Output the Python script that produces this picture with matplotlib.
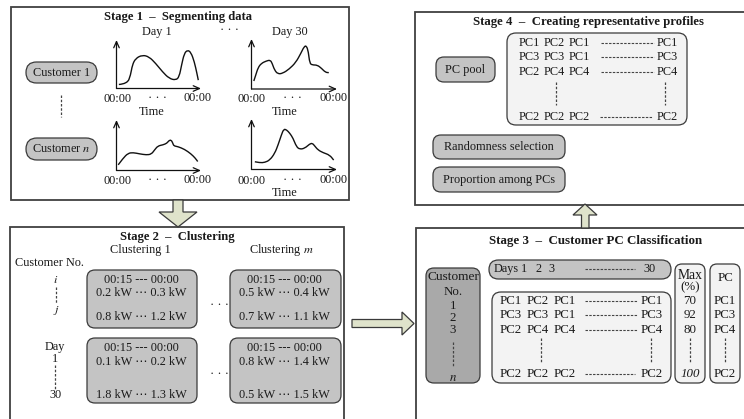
import matplotlib
matplotlib.use('Agg')
import matplotlib.pyplot as plt
from matplotlib.patches import FancyBboxPatch, Polygon, PathPatch
from matplotlib.path import Path

plt.rcParams['mathtext.fontset'] = 'stix'

SERIF = ['Liberation Serif', 'DejaVu Serif', 'DejaVu Sans']
FS = 8.8
FS3 = 9.3
EDGE = '#3a3a3a'

# load sketches (fractions of each small plot's width / height)
day1_cust1 = [(0.028, 0.083), (0.127, 0.097), (0.167, 0.276), (0.187, 0.483), (0.226, 0.621),
              (0.306, 0.690), (0.385, 0.655), (0.464, 0.517), (0.544, 0.345), (0.623, 0.207),
              (0.702, 0.172), (0.742, 0.241), (0.770, 0.483), (0.802, 0.724), (0.841, 0.793),
              (0.881, 0.745), (0.921, 0.552), (0.952, 0.310), (0.968, 0.172)]
day30_cust1 = [(0.027, 0.160), (0.050, 0.280), (0.077, 0.427), (0.115, 0.513), (0.173, 0.560),
               (0.219, 0.580), (0.242, 0.513), (0.269, 0.380), (0.308, 0.300), (0.365, 0.313),
               (0.442, 0.400), (0.519, 0.533), (0.577, 0.713), (0.615, 0.847), (0.642, 0.867),
               (0.665, 0.747), (0.681, 0.513), (0.712, 0.480), (0.769, 0.480), (0.819, 0.413),
               (0.865, 0.333), (0.904, 0.327)]
day1_custn = [(0.020, 0.112), (0.078, 0.243), (0.137, 0.342), (0.196, 0.355), (0.275, 0.329),
              (0.353, 0.309), (0.412, 0.322), (0.451, 0.408), (0.490, 0.487), (0.549, 0.507),
              (0.596, 0.539), (0.620, 0.592), (0.647, 0.605), (0.667, 0.539), (0.678, 0.487),
              (0.725, 0.474), (0.804, 0.421), (0.882, 0.329), (0.933, 0.243), (0.961, 0.178)]
day30_custn = [(0.039, 0.153), (0.097, 0.133), (0.156, 0.140), (0.214, 0.187), (0.272, 0.320),
               (0.311, 0.487), (0.350, 0.687), (0.377, 0.800), (0.409, 0.787), (0.447, 0.720),
               (0.486, 0.620), (0.525, 0.453), (0.564, 0.400), (0.623, 0.420), (0.681, 0.507),
               (0.712, 0.520), (0.739, 0.467), (0.778, 0.387), (0.837, 0.333), (0.914, 0.287),
               (0.961, 0.187)]

# stage 2 cluster boxes
cluster_rows = {
    'c1_cust': ['00:15 --- 00:00', '0.2 kW \u22ef 0.3 kW', '0.8 kW \u22ef 1.2 kW'],
    'cm_cust': ['00:15 --- 00:00', '0.5 kW \u22ef 0.4 kW', '0.7 kW \u22ef 1.1 kW'],
    'c1_day': ['00:15 --- 00:00', '0.1 kW \u22ef 0.2 kW', '1.8 kW \u22ef 1.3 kW'],
    'cm_day': ['00:15 --- 00:00', '0.8 kW \u22ef 1.4 kW', '0.5 kW \u22ef 1.5 kW'],
}

# PC matrix (first three days and day 30)
pc_first = [['PC1', 'PC2', 'PC1'], ['PC3', 'PC3', 'PC1'], ['PC2', 'PC4', 'PC4']]
pc_last = ['PC1', 'PC3', 'PC4']
pc_bottom = ['PC2', 'PC2', 'PC2']
pc_bottom_last = 'PC2'
max_pct = ['70', '92', '80']
max_pct_last = '100'
pc_class = ['PC1', 'PC3', 'PC4']
pc_class_last = 'PC2'
customer_ids = ['1', '2', '3']
day_ids = ['1', '2', '3']

fig = plt.figure(figsize=(7.44, 4.19), dpi=100)
ax = fig.add_axes([0, 0, 1, 1])
ax.set_xlim(0, 744)
ax.set_ylim(419, 0)
ax.axis('off')


def txt(x, y, s, size=FS, ha='center', **kw):
    ax.text(x, y, s, fontsize=size, ha=ha, va='center', family=SERIF, color='#1a1a1a', **kw)


def rbox(x0, y0, x1, y1, fc, r=None, lw=0.9):
    if r is None:
        r = (y1 - y0) / 2
    ax.add_patch(FancyBboxPatch((x0, y0), x1 - x0, y1 - y0,
                                boxstyle='round,pad=0,rounding_size=%g' % r,
                                fc=fc, ec=EDGE, lw=lw))


def vdash(x, y0, y1):
    ax.plot([x, x], [y0, y1], color='#444444', lw=0.9, ls=(0, (2, 1.4)))


def hdash(x0, x1, y):
    ax.plot([x0, x1], [y, y], color='#444444', lw=0.8, ls=(0, (2.2, 1.2)))


# stage frames
for x0, y0, x1, y1 in [(11, 7, 349, 200), (10, 227, 344, 425), (415, 12, 750, 205), (416, 228, 750, 425)]:
    ax.add_patch(plt.Rectangle((x0, y0), x1 - x0, y1 - y0, fc='white', ec='#404040', lw=1.3))

# arrows between stages
ARROW_FC = '#dfe3cb'
ax.add_patch(Polygon([(173, 200), (183, 200), (183, 212), (197, 212), (178, 227), (159, 212), (173, 212)],
                     closed=True, fc=ARROW_FC, ec=EDGE, lw=0.9))
ax.add_patch(Polygon([(352, 319.5), (402, 319.5), (402, 312), (414, 323.5), (402, 335), (402, 327.5), (352, 327.5)],
                     closed=True, fc=ARROW_FC, ec=EDGE, lw=0.9))
ax.add_patch(Polygon([(581.5, 228), (589, 228), (589, 215), (597, 215), (585, 204), (573, 215), (581.5, 215)],
                     closed=True, fc=ARROW_FC, ec=EDGE, lw=0.9))

# ---------- Stage 1 ----------
txt(178, 17, 'Stage 1  \u2013  Segmenting data', size=9.1, fontweight='bold')
txt(157, 32, 'Day 1')
txt(230, 30, '\u00b7 \u00b7 \u00b7')
txt(290, 32, 'Day 30')
rbox(26, 62, 97, 83, '#c4c4c4')
txt(61.5, 72.5, 'Customer 1')
vdash(61, 95, 117)
rbox(26, 138, 97, 160, '#c4c4c4')
txt(61.5, 149, 'Customer $\\mathit{n}$')


def sketch(curve, x0, y0, w, h):
    sub = fig.add_axes([x0 / 744, 1 - y0 / 419, w / 744, h / 419])
    sub.set_xlim(0, 1)
    sub.set_ylim(0, 1)
    sub.axis('off')
    arrow = dict(arrowstyle='->,head_length=0.45,head_width=0.2', color='#111111', lw=0.9,
                 shrinkA=0, shrinkB=0)
    sub.annotate('', xy=(1, 0), xytext=(0, 0), arrowprops=arrow, annotation_clip=False)
    sub.annotate('', xy=(0, 1), xytext=(0, 0), arrowprops=arrow, annotation_clip=False)
    verts = [curve[0]]
    codes = [Path.MOVETO]
    for i in range(1, len(curve) - 1):
        mid = ((curve[i][0] + curve[i + 1][0]) / 2, (curve[i][1] + curve[i + 1][1]) / 2)
        verts += [curve[i], mid]
        codes += [Path.CURVE3, Path.CURVE3]
    verts.append(curve[-1])
    codes.append(Path.LINETO)
    sub.add_patch(PathPatch(Path(verts, codes), fc='none', ec='#111111', lw=1.0, clip_on=False))


sketch(day1_cust1, 116.5, 88.5, 84.5, 48.5)
sketch(day30_cust1, 251.5, 89, 85.5, 50)
sketch(day1_custn, 116.5, 170.5, 84.5, 50.5)
sketch(day30_custn, 251.5, 169.5, 85.5, 50.5)

for xl, xr, y in [(117, 198, 99), (252, 333, 99), (117, 198, 181), (252, 333, 181)]:
    txt(xl, y, '00:00')
    txt(xr, y - 1, '00:00')
    txt((xl + xr) / 2, y - 1, '\u00b7 \u00b7 \u00b7')
txt(152, 112, 'Time')
txt(285, 112, 'Time')
txt(285, 193, 'Time')

# ---------- Stage 2 ----------
txt(177, 237, 'Stage 2  \u2013  Clustering', size=9.1, fontweight='bold')
txt(140, 250, 'Clustering 1')
txt(281, 250, 'Clustering $\\mathit{m}$')
txt(49, 263, 'Customer No.')
txt(56, 280, '$\\mathit{i}$')
vdash(56, 287, 303)
txt(56, 310, '$\\mathit{j}$')
txt(55, 347, 'Day')
txt(55, 359, '1')
vdash(55, 365, 389)
txt(55, 395, '30')

for key, (x0, x1), (y0, y1), rows_y in [
        ('c1_cust', (87, 197), (270, 328), (280, 293, 317)),
        ('cm_cust', (230, 341), (270, 328), (280, 293, 317)),
        ('c1_day', (87, 197), (338, 403), (348, 362, 395)),
        ('cm_day', (230, 341), (338, 403), (348, 362, 395))]:
    rbox(x0, y0, x1, y1, '#c4c4c4', r=8)
    for s, y in zip(cluster_rows[key], rows_y):
        txt((x0 + x1) / 2 - 1, y, s)
txt(220, 305, '\u00b7 \u00b7 \u00b7')
txt(220, 374, '\u00b7 \u00b7 \u00b7')

# ---------- Stage 4 ----------
txt(588, 22, 'Stage 4  \u2013  Creating representative profiles', size=9.2, fontweight='bold')
rbox(507, 33, 687, 125, '#f3f3f3', r=9)
cols4 = [529.5, 554.5, 579.5]
rows4 = [43, 57, 72]
for r, y in enumerate(rows4):
    for c, x in enumerate(cols4):
        txt(x, y, pc_first[r][c])
    hdash(601, 654, y)
    txt(667, y, pc_last[r])
vdash(556, 82, 105)
vdash(665, 82, 105)
for c, x in enumerate(cols4):
    txt(x, 117, pc_bottom[c])
hdash(600, 652, 117)
txt(667, 117, pc_bottom_last)
rbox(436, 57, 495, 82, '#c4c4c4', r=8)
txt(465.5, 69.5, 'PC pool')
rbox(433, 135, 565, 159, '#c4c4c4', r=8)
txt(499, 147, 'Randomness selection')
rbox(433, 167, 565, 192, '#c4c4c4', r=8)
txt(499, 179.5, 'Proportion among PCs')

# ---------- Stage 3 ----------
txt(596, 241, 'Stage 3  \u2013  Customer PC Classification', size=9.4, fontweight='bold')
rbox(426, 268, 480, 383, '#a9a9a9', r=8)
txt(453, 277, 'Customer', size=9.6)
txt(453, 292, 'No.', size=FS3)
for s, y in zip(customer_ids, [306, 318, 330]):
    txt(453, y, s, size=FS3)
vdash(453, 342, 367)
txt(453, 378, '$\\mathit{n}$', size=FS3)

rbox(489, 260, 671, 279, '#c4c4c4')
txt(494, 269, 'Days', ha='left', size=FS)
for s, x in zip(day_ids, [524, 538, 551]):
    txt(x, 269, s, size=FS)
hdash(585, 635, 269)
txt(650, 269, '30', size=FS)

rbox(492, 292, 671, 383, '#f3f3f3', r=9)
cols3 = [511, 538, 565]
rows3 = [301, 315, 330]
for r, y in enumerate(rows3):
    for c, x in enumerate(cols3):
        txt(x, y, pc_first[r][c], size=FS3)
    hdash(585, 637, y)
    txt(652, y, pc_last[r], size=FS3)
vdash(541, 338, 362)
vdash(651, 338, 362)
for c, x in enumerate(cols3):
    txt(x, 374, pc_bottom[c], size=FS3)
hdash(585, 635, 374)
txt(652, 374, pc_bottom_last, size=FS3)

rbox(675, 264, 705, 383, '#f3f3f3', r=7)
txt(690, 275, 'Max', size=9.8)
txt(690, 287, '(%)', size=FS3)
for s, y in zip(max_pct, rows3):
    txt(690, y, s, size=FS3)
vdash(690, 338, 362)
txt(690, 374, max_pct_last, size=FS3, style='italic')

rbox(710, 264, 740, 383, '#f3f3f3', r=7)
txt(725, 278, 'PC', size=FS3)
for s, y in zip(pc_class, rows3):
    txt(725, y, s, size=FS3)
vdash(725, 338, 362)
txt(725, 374, pc_class_last, size=FS3)

fig.savefig('out.png', dpi=100)
